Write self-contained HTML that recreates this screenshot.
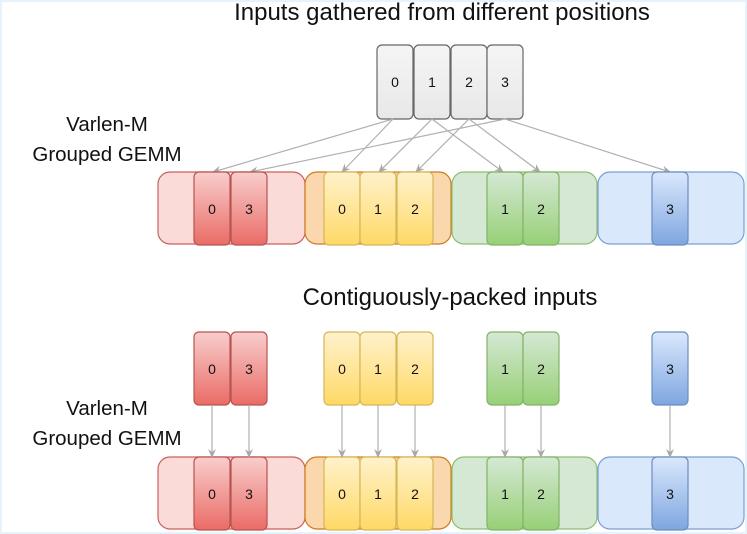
<!DOCTYPE html>
<html><head><style>
html,body{margin:0;padding:0;background:#fff;}
svg{display:block;}
text{font-family:"Liberation Sans",sans-serif;fill:#111;}
</style></head><body>
<svg width="747" height="534" viewBox="0 0 747 534" xmlns="http://www.w3.org/2000/svg">
<defs>
<linearGradient id="gg" x1="0" y1="0" x2="0" y2="1"><stop offset="0" stop-color="#f5f5f5"/><stop offset="1" stop-color="#e8e8e8"/></linearGradient>
<linearGradient id="rg" x1="0" y1="0" x2="0" y2="1"><stop offset="0" stop-color="#f8cecc"/><stop offset="1" stop-color="#ea6b66"/></linearGradient>
<linearGradient id="yg" x1="0" y1="0" x2="0" y2="1"><stop offset="0" stop-color="#fff2cc"/><stop offset="1" stop-color="#ffd966"/></linearGradient>
<linearGradient id="ng" x1="0" y1="0" x2="0" y2="1"><stop offset="0" stop-color="#d5e8d4"/><stop offset="1" stop-color="#97d077"/></linearGradient>
<linearGradient id="bg" x1="0" y1="0" x2="0" y2="1"><stop offset="0" stop-color="#dae8fc"/><stop offset="1" stop-color="#7ea6e0"/></linearGradient>
<marker id="ar" markerWidth="10" markerHeight="10" refX="8" refY="5" orient="auto" markerUnits="userSpaceOnUse"><path d="M0,1 L9,5 L0,9 L3,5 Z" fill="#a8a8a8"/></marker>
</defs>
<rect x="0" y="0" width="747" height="534" fill="none" stroke="#e6f3fa" stroke-width="4"/>

<text x="442" y="20" font-size="24" text-anchor="middle">Inputs gathered from different positions</text>
<text x="107" y="131" font-size="20.5" text-anchor="middle">Varlen-M</text>
<text x="107" y="161" font-size="20.5" text-anchor="middle">Grouped GEMM</text>
<text x="450" y="305" font-size="24" text-anchor="middle">Contiguously-packed inputs</text>
<text x="107" y="415" font-size="20.5" text-anchor="middle">Varlen-M</text>
<text x="107" y="445" font-size="20.5" text-anchor="middle">Grouped GEMM</text>

<g stroke="#666" stroke-width="1.2" fill="url(#gg)">
<rect x="377" y="45" width="36" height="74" rx="5"/>
<rect x="414" y="45" width="36" height="74" rx="5"/>
<rect x="451" y="45" width="36" height="74" rx="5"/>
<rect x="487" y="45" width="36" height="74" rx="5"/>
</g>
<g font-size="14" text-anchor="middle">
<text x="395" y="87">0</text><text x="432" y="87">1</text><text x="469" y="87">2</text><text x="505" y="87">3</text>
</g>

<g stroke="#b0b0b0" stroke-width="1.2" fill="none" marker-end="url(#ar)">
<line x1="393" y1="119" x2="213" y2="172"/>
<line x1="505" y1="119" x2="250" y2="172"/>
<line x1="393" y1="119" x2="342" y2="172"/>
<line x1="432" y1="119" x2="379" y2="172"/>
<line x1="469" y1="119" x2="416" y2="172"/>
<line x1="432" y1="119" x2="503" y2="172"/>
<line x1="469" y1="119" x2="540" y2="172"/>
<line x1="505" y1="119" x2="670" y2="172"/>
</g>

<g id="bars">
<rect x="158" y="172" width="147" height="72" rx="12" fill="#fadbd8" stroke="#c9615c" stroke-width="1.2"/>
<rect x="305" y="172" width="146" height="72" rx="12" fill="#fad7ac" stroke="#d07a1c" stroke-width="1.2"/>
<rect x="452" y="172" width="145" height="72" rx="12" fill="#d5e8d4" stroke="#8cbf6e" stroke-width="1.2"/>
<rect x="598" y="172" width="146" height="72" rx="12" fill="#dae8fc" stroke="#7b9ed6" stroke-width="1.2"/>
<g id="cells">
<g stroke-width="1.2">
<rect x="194" y="172" width="36" height="73" rx="5" fill="url(#rg)" stroke="#b85450"/>
<rect x="231" y="172" width="36" height="73" rx="5" fill="url(#rg)" stroke="#b85450"/>
<rect x="324" y="172" width="36" height="73" rx="5" fill="url(#yg)" stroke="#d6b656"/>
<rect x="360" y="172" width="36" height="73" rx="5" fill="url(#yg)" stroke="#d6b656"/>
<rect x="397" y="172" width="36" height="73" rx="5" fill="url(#yg)" stroke="#d6b656"/>
<rect x="487" y="172" width="36" height="73" rx="5" fill="url(#ng)" stroke="#82b366"/>
<rect x="523" y="172" width="36" height="73" rx="5" fill="url(#ng)" stroke="#82b366"/>
<rect x="652" y="172" width="36" height="73" rx="5" fill="url(#bg)" stroke="#6c8ebf"/>
</g>
<g font-size="14" text-anchor="middle">
<text x="212" y="214">0</text><text x="249" y="214">3</text>
<text x="342" y="214">0</text><text x="378" y="214">1</text><text x="415" y="214">2</text>
<text x="505" y="214">1</text><text x="541" y="214">2</text>
<text x="670" y="214">3</text>
</g>
</g>
</g>
<use href="#bars" y="285"/>
<use href="#cells" y="160"/>

<g stroke="#b0b0b0" stroke-width="1.2" fill="none" marker-end="url(#ar)">
<line x1="212" y1="405" x2="212" y2="457"/>
<line x1="249" y1="405" x2="249" y2="457"/>
<line x1="342" y1="405" x2="342" y2="457"/>
<line x1="378" y1="405" x2="378" y2="457"/>
<line x1="415" y1="405" x2="415" y2="457"/>
<line x1="505" y1="405" x2="505" y2="457"/>
<line x1="541" y1="405" x2="541" y2="457"/>
<line x1="670" y1="405" x2="670" y2="457"/>
</g>
</svg>
</body></html>
